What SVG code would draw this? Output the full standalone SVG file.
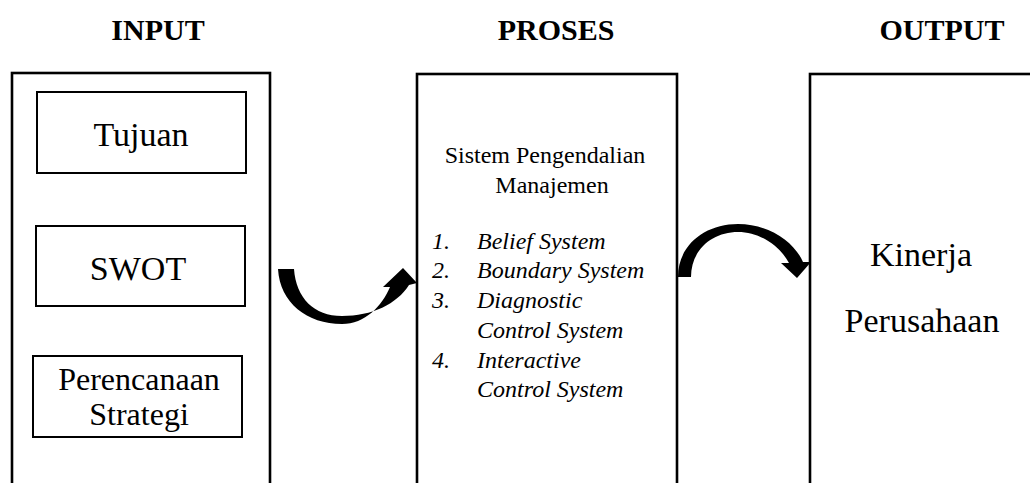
<svg xmlns="http://www.w3.org/2000/svg" width="1030" height="483" viewBox="0 0 1030 483">
<style>
.box{fill:#fff;stroke:#000;stroke-width:2.6}
.sub{fill:#fff;stroke:#000;stroke-width:2}
.t{font-family:"Liberation Serif","Times New Roman",serif;fill:#000}
.title{font-size:30px;font-weight:bold;text-anchor:middle}
.big{font-size:34px;text-anchor:middle}
.mid{font-size:32px;text-anchor:middle}
.ps{font-size:24px;text-anchor:middle}
.li{font-size:24px;font-style:italic}
.arrow{fill:#000}
</style>
<text class="t title" x="158" y="40">INPUT</text>
<text class="t title" x="556" y="40">PROSES</text>
<text class="t title" x="942" y="40">OUTPUT</text>
<g id="input">
<rect class="box" x="12" y="73" width="258" height="430"/>
<g id="tujuan"><rect class="sub" x="37" y="92" width="209" height="81"/><text class="t big" x="141" y="146">Tujuan</text></g>
<g id="swot"><rect class="sub" x="36" y="226" width="209" height="80"/><text class="t big" x="138" y="280">SWOT</text></g>
<g id="perencanaan"><rect class="sub" x="33" y="356" width="209" height="81"/><text class="t mid" x="139" y="390">Perencanaan</text><text class="t mid" x="139" y="425">Strategi</text></g>
</g>
<g id="proses">
<rect class="box" x="417" y="74" width="260" height="430"/>
<text class="t ps" x="545" y="163">Sistem Pengendalian</text>
<text class="t ps" x="552" y="193">Manajemen</text>
<g class="t li">
<text x="432" y="249">1.</text><text x="477" y="249">Belief System</text>
<text x="432" y="278">2.</text><text x="477" y="278">Boundary System</text>
<text x="432" y="308">3.</text><text x="477" y="308">Diagnostic</text>
<text x="477" y="338">Control System</text>
<text x="432" y="368">4.</text><text x="477" y="368">Interactive</text>
<text x="477" y="397">Control System</text>
</g>
</g>
<g id="output">
<rect class="box" x="810" y="74" width="240" height="430"/>
<text class="t big" x="921" y="266">Kinerja</text>
<text class="t big" x="922" y="332">Perusahaan</text>
</g>
<g id="connectors">
<path class="arrow" d="M278,269 C280,303 307,324 342,324 C365,324 382,306 390,287 L383,287 L403,268 L417,283 L409,285 C397,304 372,316 342,316 C314,316 296,298 294,269 Z"/>
<path class="arrow" d="M678,277 C678,245 705,224 738,224 C770,224 795,243 803,262 L811,262 L797,278 L781,263 L789,263 C780,246 760,232 738,232 C712,232 691,250 691,277 Z"/>
</g>
</svg>
